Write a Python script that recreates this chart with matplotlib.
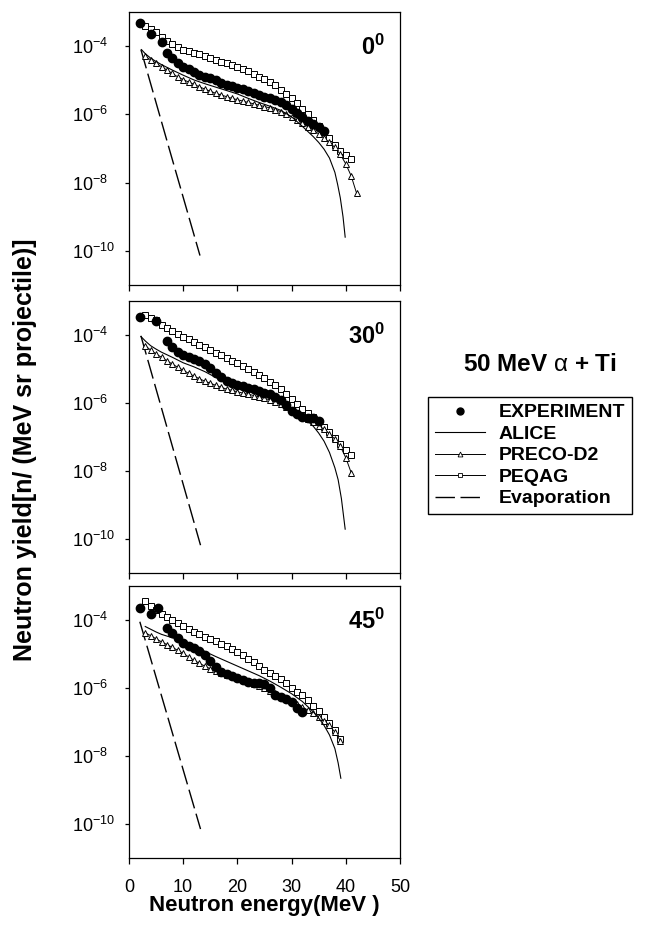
import numpy as np
import matplotlib
matplotlib.use("Agg")
import matplotlib.pyplot as plt
from matplotlib.lines import Line2D

plt.rcParams['font.family'] = ['Liberation Sans', 'DejaVu Sans']
plt.rcParams['mathtext.fontset'] = 'custom'
plt.rcParams['mathtext.rm'] = 'Liberation Sans'
plt.rcParams['mathtext.bf'] = 'Liberation Sans:bold'
plt.rcParams['mathtext.it'] = 'Liberation Sans:italic'
plt.rcParams['mathtext.default'] = 'regular'

# values are log10 of neutron yield
angles = ['0', '30', '45']

# ---- 0 deg ----
exp_x_0 = [2, 4, 6, 7, 8, 9, 10, 11, 12, 13, 14, 15, 16, 17, 18, 19, 20, 21, 22,
           23, 24, 25, 26, 27, 28, 29, 30, 31, 32, 33, 34, 35, 36]
exp_log_0 = [-3.32, -3.64, -3.88, -4.20, -4.36, -4.50, -4.60, -4.68, -4.76, -4.83,
             -4.89, -4.94, -5.00, -5.07, -5.13, -5.18, -5.22, -5.26, -5.30, -5.36,
             -5.42, -5.48, -5.53, -5.58, -5.64, -5.72, -5.83, -5.96, -6.09, -6.18,
             -6.28, -6.38, -6.50]
peqag_x_0 = [3, 4, 5, 6, 7, 8, 9, 10, 11, 12, 13, 14, 15, 16, 17, 18, 19, 20, 21,
             22, 23, 24, 25, 26, 27, 28, 29, 30, 31, 32, 33, 34, 35, 36, 37, 38, 39,
             40, 41]
peqag_log_0 = [-3.40, -3.50, -3.58, -3.72, -3.85, -3.95, -4.03, -4.10, -4.15, -4.19,
               -4.24, -4.30, -4.35, -4.40, -4.45, -4.50, -4.56, -4.62, -4.68, -4.74,
               -4.82, -4.90, -4.97, -5.06, -5.15, -5.27, -5.39, -5.52, -5.67, -5.83,
               -5.99, -6.15, -6.33, -6.51, -6.70, -6.89, -7.07, -7.20, -7.30]
preco_x_0 = [3, 4, 5, 6, 7, 8, 9, 10, 11, 12, 13, 14, 15, 16, 17, 18, 19, 20, 21,
             22, 23, 24, 25, 26, 27, 28, 29, 30, 31, 32, 33, 34, 35, 36, 37, 38, 39,
             40, 41, 42]
preco_log_0 = [-4.30, -4.40, -4.50, -4.60, -4.70, -4.80, -4.90, -4.98, -5.05, -5.12,
               -5.19, -5.26, -5.32, -5.38, -5.43, -5.48, -5.53, -5.57, -5.61, -5.65,
               -5.69, -5.73, -5.77, -5.81, -5.86, -5.92, -5.99, -6.07, -6.16, -6.26,
               -6.36, -6.46, -6.57, -6.69, -6.82, -6.97, -7.17, -7.45, -7.80, -8.31]
alice_x_0 = [2.3, 3, 4, 5, 6, 8, 10, 12, 14, 16, 18, 20, 22, 24, 26, 28, 30, 32, 33,
             34, 35, 36, 37, 38, 38.5, 39, 39.5, 39.9]
alice_log_0 = [-4.10, -4.22, -4.35, -4.45, -4.54, -4.70, -4.85, -4.99, -5.10, -5.20,
               -5.30, -5.40, -5.53, -5.65, -5.76, -5.88, -6.07, -6.35, -6.50, -6.65,
               -6.82, -7.02, -7.28, -7.70, -8.05, -8.45, -9.00, -9.60]
evap_x_0 = [2.2, 7.5, 13.1]
evap_log_0 = [-4.10, -7.05, -10.14]

# ---- 30 deg ----
exp_x_30 = [2, 5, 7, 8, 9, 10, 11, 12, 13, 14, 15, 16, 17, 18, 19, 20, 21, 22, 23,
            24, 25, 26, 27, 28, 29, 30, 31, 32, 33, 34, 35]
exp_log_30 = [-3.47, -3.60, -4.17, -4.36, -4.50, -4.60, -4.66, -4.70, -4.76, -4.85,
              -4.98, -5.12, -5.25, -5.35, -5.40, -5.46, -5.51, -5.56, -5.60, -5.65,
              -5.70, -5.75, -5.82, -5.92, -6.05, -6.22, -6.33, -6.40, -6.44, -6.44,
              -6.52]
peqag_x_30 = [3, 4, 5, 6, 7, 8, 9, 10, 11, 12, 13, 14, 15, 16, 17, 18, 19, 20, 21,
              22, 23, 24, 25, 26, 27, 28, 29, 30, 31, 32, 33, 34, 35, 36, 37, 38, 39,
              40, 41]
peqag_log_30 = [-3.42, -3.50, -3.57, -3.70, -3.81, -3.90, -3.98, -4.05, -4.13, -4.21,
                -4.29, -4.37, -4.45, -4.52, -4.60, -4.68, -4.76, -4.84, -4.92, -5.00,
                -5.09, -5.18, -5.27, -5.37, -5.47, -5.60, -5.73, -5.87, -6.02, -6.18,
                -6.30, -6.41, -6.55, -6.69, -6.85, -7.03, -7.21, -7.38, -7.53]
preco_x_30 = [3, 4, 5, 6, 7, 8, 9, 10, 11, 12, 13, 14, 15, 16, 17, 18, 19, 20, 21,
              22, 23, 24, 25, 26, 27, 28, 29, 30, 31, 32, 33, 34, 35, 36, 37, 38, 39,
              40, 41]
preco_log_30 = [-4.32, -4.45, -4.56, -4.66, -4.76, -4.86, -4.95, -5.04, -5.13, -5.21,
                -5.29, -5.36, -5.42, -5.48, -5.54, -5.59, -5.63, -5.67, -5.71, -5.74,
                -5.78, -5.82, -5.86, -5.91, -5.97, -6.04, -6.12, -6.21, -6.31, -6.40,
                -6.48, -6.56, -6.66, -6.77, -6.90, -7.06, -7.27, -7.60, -8.04]
alice_x_30 = [2.2, 3, 4, 5, 6, 8, 10, 12, 14, 16, 18, 20, 22, 24, 26, 28, 30, 32, 33,
              34, 35, 36, 37, 38, 38.6, 39.2, 39.9]
alice_log_30 = [-4.05, -4.18, -4.32, -4.42, -4.51, -4.66, -4.82, -4.94, -5.08, -5.25,
                -5.38, -5.50, -5.62, -5.73, -5.85, -5.99, -6.16, -6.39, -6.53, -6.68,
                -6.88, -7.12, -7.45, -7.90, -8.25, -8.80, -9.70]
evap_x_30 = [2.2, 7.7, 13.2]
evap_log_30 = [-4.03, -7.10, -10.17]

# ---- 45 deg ----
exp_x_45 = [2, 4, 5.3, 7.1, 8, 9, 10, 11, 12, 13, 14, 15, 16, 17, 18, 19, 20, 21, 22,
            23, 24, 25, 26, 27, 28, 29, 30, 31, 32]
exp_log_45 = [-3.67, -3.82, -3.67, -4.25, -4.40, -4.55, -4.67, -4.76, -4.83, -4.92,
              -5.05, -5.22, -5.40, -5.53, -5.60, -5.66, -5.72, -5.78, -5.83, -5.87,
              -5.85, -5.88, -5.99, -6.20, -6.26, -6.32, -6.42, -6.58, -6.70]
peqag_x_45 = [3, 4, 5, 6, 7, 8, 9, 10, 11, 12, 13, 14, 15, 16, 17, 18, 19, 20, 21,
              22, 23, 24, 25, 26, 27, 28, 29, 30, 31, 32, 33, 34, 35, 36, 37, 38, 39]
peqag_log_45 = [-3.45, -3.60, -3.72, -3.83, -3.93, -4.01, -4.10, -4.19, -4.27, -4.35,
                -4.43, -4.50, -4.57, -4.63, -4.70, -4.78, -4.87, -4.96, -5.05, -5.14,
                -5.25, -5.36, -5.47, -5.57, -5.66, -5.75, -5.86, -6.00, -6.12, -6.22,
                -6.36, -6.52, -6.68, -6.86, -7.03, -7.24, -7.50]
preco_x_45 = [3, 4, 5, 6, 7, 8, 9, 10, 11, 12, 13, 14, 15, 16, 17, 18, 19, 20, 21,
              22, 23, 24, 25, 26, 27, 28, 29, 30, 31, 32, 33, 34, 35, 36, 37, 38, 39]
preco_log_45 = [-4.38, -4.47, -4.56, -4.65, -4.73, -4.81, -4.90, -4.99, -5.09, -5.19,
                -5.28, -5.36, -5.44, -5.50, -5.56, -5.61, -5.66, -5.71, -5.76, -5.82,
                -5.88, -5.94, -6.01, -6.08, -6.15, -6.23, -6.31, -6.39, -6.47, -6.56,
                -6.65, -6.75, -6.84, -6.96, -7.10, -7.30, -7.55]
alice_x_45 = [3, 4, 5, 6, 8, 10, 12, 14, 16, 18, 20, 22, 24, 26, 28, 30, 32, 34, 35,
              36, 37, 38, 38.6, 39.1]
alice_log_45 = [-4.20, -4.28, -4.36, -4.43, -4.53, -4.63, -4.78, -4.93, -5.08, -5.22,
                -5.36, -5.50, -5.64, -5.80, -5.98, -6.17, -6.40, -6.70, -6.88, -7.10,
                -7.38, -7.78, -8.20, -8.65]
evap_x_45 = [2.0, 7.6, 13.2]
evap_log_45 = [-4.06, -7.10, -10.14]

panels = [
    (exp_x_0, exp_log_0, peqag_x_0, peqag_log_0, preco_x_0, preco_log_0,
     alice_x_0, alice_log_0, evap_x_0, evap_log_0),
    (exp_x_30, exp_log_30, peqag_x_30, peqag_log_30, preco_x_30, preco_log_30,
     alice_x_30, alice_log_30, evap_x_30, evap_log_30),
    (exp_x_45, exp_log_45, peqag_x_45, peqag_log_45, preco_x_45, preco_log_45,
     alice_x_45, alice_log_45, evap_x_45, evap_log_45),
]

fig = plt.figure(figsize=(6.45, 9.31), dpi=100)
bottoms = [0.694, 0.384, 0.078]
dash = (0, (14, 4))

for i, (ang, data) in enumerate(zip(angles, panels)):
    ex, ey, qx, qy, px, py, ax_, ay, vx, vy = data
    ax = fig.add_axes([0.2, bottoms[i], 0.42, 0.293])
    ax.plot(vx, np.power(10.0, vy), color='k', lw=1.0, linestyle=dash)
    ax.plot(qx, np.power(10.0, qy), color='k', lw=0.7, marker='s', ms=4.5,
            mfc='white', mec='k', mew=0.7)
    ax.plot(px, np.power(10.0, py), color='k', lw=0.7, marker='^', ms=4.5,
            mfc='white', mec='k', mew=0.7)
    ax.plot(ax_, np.power(10.0, ay), color='k', lw=0.8)
    ax.plot(ex, np.power(10.0, ey), 'o', color='k', ms=6, ls='none')

    ax.set_yscale('log')
    ax.set_xlim(0, 50)
    ax.set_ylim(1e-11, 1e-3)
    ax.set_xticks([0, 10, 20, 30, 40, 50])
    ax.set_yticks([1e-4, 1e-6, 1e-8, 1e-10])
    ax.set_yticklabels([r'$10^{-4}$', r'$10^{-6}$', r'$10^{-8}$', r'$10^{-10}$'])
    ax.minorticks_off()
    ax.tick_params(axis='y', direction='out', length=3, width=0.9, pad=38, labelsize=13)
    ax.tick_params(axis='x', direction='out', length=4, width=0.9, pad=11, labelsize=13)
    for lbl in ax.get_yticklabels():
        lbl.set_ha('left')
    if i < 2:
        ax.tick_params(axis='x', labelbottom=False)
    for s in ax.spines.values():
        s.set_linewidth(0.9)
    ax.text(0.945, 0.87, r'$\mathbf{' + ang + '^{0}}$', transform=ax.transAxes,
            ha='right', va='center', fontsize=17)

fig.text(264 / 645, 1 - 906 / 931, 'Neutron energy(MeV )', fontsize=16,
         fontweight='bold', ha='center', va='center')
fig.text(25 / 645, 1 - 450 / 931, 'Neutron yield[n/ (MeV sr projectile)]',
         fontsize=18, fontweight='bold', rotation=90, ha='center', va='center')

fig.text(540 / 645, 1 - 365 / 931, r'$\mathbf{50\ MeV}\ \mathrm{\alpha}\ \mathbf{+\ Ti}$',
         fontsize=17.5, ha='center', va='center')

handles = [
    Line2D([], [], color='k', marker='o', ms=5, ls='none'),
    Line2D([], [], color='k', lw=0.8),
    Line2D([], [], color='k', lw=0.7, marker='^', ms=3.5, mfc='white', mew=0.6),
    Line2D([], [], color='k', lw=0.7, marker='s', ms=3.5, mfc='white', mew=0.6),
    Line2D([], [], color='k', lw=1.0, linestyle=dash),
]
labels = ['EXPERIMENT', 'ALICE', 'PRECO-D2', 'PEQAG', 'Evaporation']
leg = fig.legend(handles, labels, loc='upper left',
                 bbox_to_anchor=(428 / 645, 1 - 397 / 931), numpoints=1,
                 frameon=True, fancybox=False, edgecolor='k', framealpha=1,
                 prop={'weight': 'bold', 'size': 14}, handlelength=2.6,
                 handletextpad=0.7, borderpad=0.35, labelspacing=0.2,
                 borderaxespad=0)
leg.get_frame().set_linewidth(1.0)

fig.savefig('out.png', dpi=100)
